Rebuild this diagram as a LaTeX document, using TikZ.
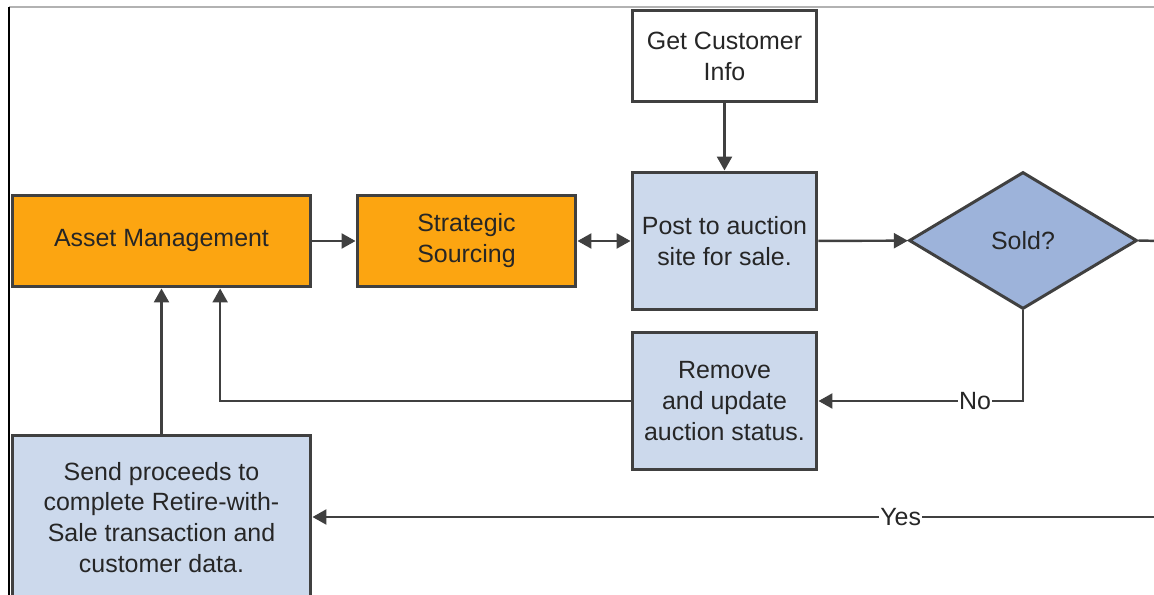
\documentclass[tikz,border=0pt]{standalone}
\usepackage{fontspec}
\setmainfont{Liberation Sans}
\usetikzlibrary{shapes.geometric,arrows.meta}
\definecolor{boxorange}{RGB}{252,165,17}
\definecolor{boxblue}{RGB}{204,217,236}
\definecolor{decblue}{RGB}{157,179,218}
\definecolor{edgegray}{RGB}{64,64,64}
\tikzset{
  box/.style={draw=edgegray, line width=1.7pt, align=center, inner sep=2pt,
    text=black!85, font=\fontsize{14.2}{17.6}\selectfont},
  orangebox/.style={box, fill=boxorange, minimum height=1.84cm},
  bluebox/.style={box, fill=boxblue, minimum width=3.7cm, minimum height=2.76cm},
  decision/.style={box, diamond, fill=decblue, minimum width=4.56cm, minimum height=2.74cm, inner sep=0pt},
  flow/.style={draw=edgegray, line width=1.4pt, -{Triangle[length=0.28cm,width=0.3cm]}},
  flowlabel/.style={fill=white, inner sep=0.5pt, text=black!85, font=\fontsize{14.2}{17.6}\selectfont}
}

\begin{document}
\begin{tikzpicture}[x=0.02cm, y=-0.02cm]
    \useasboundingbox (0,0) rectangle (1154,595);
    \clip (0,0) rectangle (1154,595);
    % frame of the cut-out
    \draw[gray!60, line width=0.6pt] (9,7) -- (1154,7);
    \draw[black, line width=0.6pt] (9,7) -- (9,595);

    \node[orangebox, minimum width=5.98cm] (asset) at (161.5,241) {Asset Management};
    \node[orangebox, minimum width=4.38cm] (sourcing) at (466.5,241) {Strategic\\Sourcing};
    \node[box, fill=white, minimum width=3.7cm, minimum height=1.84cm] (cust) at (724.5,56) {Get Customer\\Info};
    \node[bluebox] (post) at (724.5,241) {Post to auction\\site for sale.};
    \node[decision] (sold) at (1023,240.5) {Sold?};
    \node[bluebox] (remove) at (724.5,401) {Remove\\and update\\auction status.};
    \node[bluebox, minimum width=5.98cm, minimum height=3.3cm] (send) at (161.5,517.5)
        {Send proceeds to\\complete Retire-with-\\Sale transaction and\\customer data.};

    % loose ends off the right edge
    \coordinate (soldout) at (1160,241);
    \coordinate (yesin) at (1160,517);

    \draw[flow] (asset) -- (sourcing);
    \draw[flow, {Triangle[length=0.28cm,width=0.3cm]}-{Triangle[length=0.28cm,width=0.3cm]}] (sourcing) -- (post);
    \draw[flow] (cust) -- (post);
    \draw[flow] (post) -- (sold);
    \draw[draw=edgegray, line width=1.4pt] (sold.east) -- (soldout);
    \draw[flow] (sold.south) |- (remove.east) node[flowlabel, pos=0.617] {No};
    \draw[flow] (remove.west) -| (asset.-39.2);
    \draw[flow] (send.north) -- (asset.south);
    \draw[flow] (yesin) -- (yesin -| send.east) node[flowlabel, pos=0.306] {Yes};
\end{tikzpicture}
\end{document}
